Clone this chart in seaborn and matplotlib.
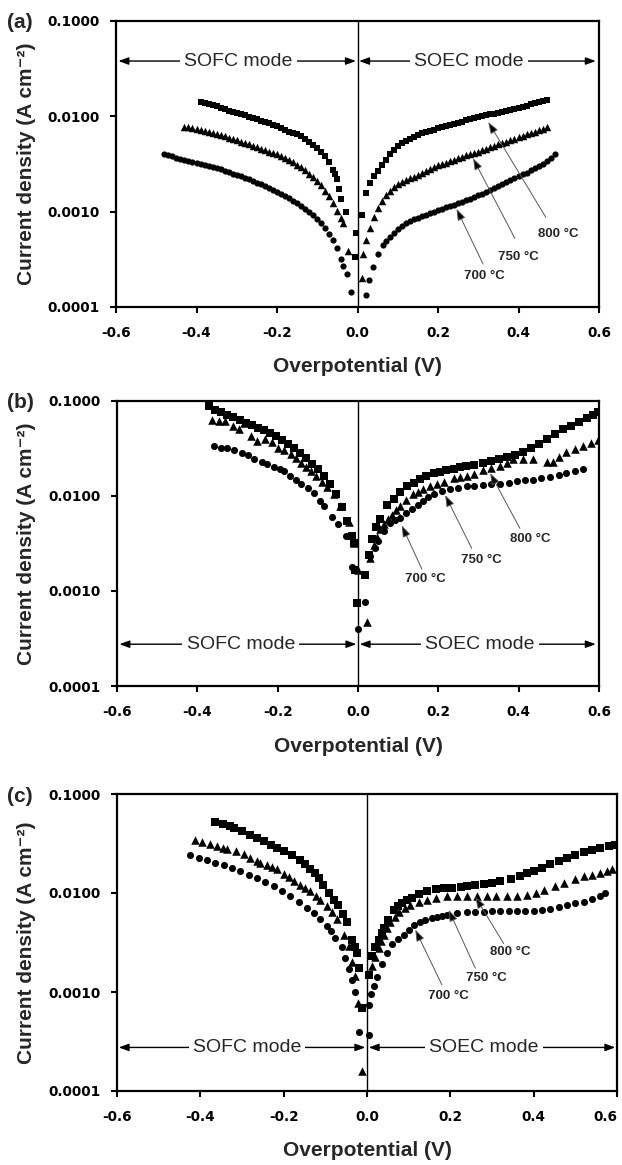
import numpy as np
import pandas as pd
import matplotlib
matplotlib.use("Agg")
import matplotlib.pyplot as plt
import seaborn as sns
from matplotlib.ticker import NullLocator

sns.set_style("ticks")
plt.rcParams['font.family'] = ['Liberation Sans', 'DejaVu Sans']
plt.rcParams['axes.unicode_minus'] = False

# ---------------- data (overpotential V, log10 of current density A cm-2) ----------------
# panel (a)
a800_v = [-0.39, -0.38, -0.37, -0.36, -0.35, -0.34, -0.33, -0.32, -0.31, -0.30, -0.29, -0.28, -0.27, -0.26,
          -0.25, -0.24, -0.23, -0.22, -0.21, -0.20, -0.19, -0.18, -0.17, -0.16, -0.15, -0.14, -0.13, -0.12,
          -0.11, -0.10, -0.09, -0.08, -0.07, -0.06, -0.055, -0.05, -0.045, -0.042, -0.028, -0.005, -0.003,
          0.010, 0.02, 0.03, 0.04, 0.05, 0.06, 0.07, 0.08, 0.09, 0.10, 0.11, 0.12, 0.13, 0.14, 0.15, 0.16,
          0.17, 0.18, 0.19, 0.20, 0.21, 0.22, 0.23, 0.24, 0.25, 0.26, 0.27, 0.28, 0.29, 0.30, 0.31, 0.32,
          0.33, 0.34, 0.35, 0.36, 0.37, 0.38, 0.39, 0.40, 0.41, 0.42, 0.43, 0.44, 0.45, 0.46, 0.47]
a800_logj = [-1.85, -1.86, -1.87, -1.88, -1.895, -1.91, -1.925, -1.94, -1.955, -1.97, -1.98, -1.99, -2.005, -2.02,
             -2.03, -2.045, -2.06, -2.075, -2.09, -2.105, -2.12, -2.14, -2.16, -2.175, -2.19, -2.21, -2.24, -2.27,
             -2.30, -2.33, -2.37, -2.42, -2.48, -2.56, -2.60, -2.66, -2.76, -2.87, -3.00, -3.48, -3.22,
             -3.04, -2.80, -2.70, -2.63, -2.57, -2.51, -2.46, -2.40, -2.35, -2.31, -2.28, -2.255, -2.235, -2.215,
             -2.195, -2.18, -2.165, -2.15, -2.14, -2.125, -2.115, -2.10, -2.09, -2.08, -2.065, -2.055, -2.04,
             -2.03, -2.02, -2.01, -2.00, -1.99, -1.98, -1.975, -1.965, -1.955, -1.945, -1.935, -1.925, -1.91,
             -1.90, -1.89, -1.875, -1.865, -1.85, -1.84, -1.83]

a750_v = [-0.43, -0.42, -0.41, -0.40, -0.39, -0.38, -0.37, -0.36, -0.35, -0.34, -0.33, -0.32, -0.31, -0.30,
          -0.29, -0.28, -0.27, -0.26, -0.25, -0.24, -0.23, -0.22, -0.21, -0.20, -0.19, -0.18, -0.17, -0.16,
          -0.15, -0.14, -0.13, -0.12, -0.11, -0.10, -0.09, -0.08, -0.07, -0.06, -0.05, -0.04, -0.035, -0.023,
          0.010, 0.014, 0.022, 0.03, 0.04, 0.05, 0.06, 0.07, 0.08, 0.09, 0.10, 0.11, 0.12, 0.13, 0.14, 0.15,
          0.16, 0.17, 0.18, 0.19, 0.20, 0.21, 0.22, 0.23, 0.24, 0.25, 0.26, 0.27, 0.28, 0.29, 0.30, 0.31,
          0.32, 0.33, 0.34, 0.35, 0.36, 0.37, 0.38, 0.39, 0.40, 0.41, 0.42, 0.43, 0.44, 0.45, 0.46, 0.47]
a750_logj = [-2.11, -2.115, -2.125, -2.135, -2.145, -2.155, -2.165, -2.175, -2.185, -2.20, -2.21, -2.225, -2.235,
             -2.25, -2.265, -2.28, -2.295, -2.31, -2.325, -2.34, -2.355, -2.37, -2.385, -2.40, -2.42, -2.44,
             -2.46, -2.48, -2.51, -2.535, -2.565, -2.60, -2.635, -2.675, -2.72, -2.78, -2.84, -2.91, -2.99,
             -3.07, -3.12, -3.41,
             -3.70, -3.44, -3.30, -3.17, -3.06, -2.96, -2.89, -2.83, -2.78, -2.74, -2.71, -2.69, -2.67, -2.65,
             -2.635, -2.615, -2.595, -2.575, -2.55, -2.53, -2.515, -2.50, -2.485, -2.47, -2.455, -2.44, -2.425,
             -2.41, -2.40, -2.385, -2.37, -2.355, -2.34, -2.325, -2.31, -2.295, -2.28, -2.265, -2.25, -2.235,
             -2.22, -2.205, -2.19, -2.175, -2.16, -2.145, -2.13, -2.115]

a700_v = [-0.48, -0.47, -0.46, -0.45, -0.44, -0.43, -0.42, -0.41, -0.40, -0.39, -0.38, -0.37, -0.36, -0.35,
          -0.34, -0.33, -0.32, -0.31, -0.30, -0.29, -0.28, -0.27, -0.26, -0.25, -0.24, -0.23, -0.22, -0.21,
          -0.20, -0.19, -0.18, -0.17, -0.16, -0.15, -0.14, -0.13, -0.12, -0.11, -0.10, -0.09, -0.08, -0.07,
          -0.06, -0.05, -0.04, -0.035, -0.027, -0.015,
          0.021, 0.029, 0.039, 0.051, 0.064, 0.07, 0.08, 0.09, 0.10, 0.11, 0.12, 0.13, 0.14, 0.15, 0.16, 0.17,
          0.18, 0.19, 0.20, 0.21, 0.22, 0.23, 0.24, 0.25, 0.26, 0.27, 0.28, 0.29, 0.30, 0.31, 0.32, 0.33,
          0.34, 0.35, 0.36, 0.37, 0.38, 0.39, 0.40, 0.41, 0.42, 0.43, 0.44, 0.45, 0.46, 0.47, 0.48, 0.49]
a700_logj = [-2.40, -2.41, -2.42, -2.435, -2.445, -2.455, -2.465, -2.475, -2.49, -2.50, -2.51, -2.52, -2.535,
             -2.545, -2.555, -2.57, -2.585, -2.60, -2.615, -2.63, -2.645, -2.66, -2.675, -2.695, -2.71, -2.73,
             -2.75, -2.77, -2.79, -2.81, -2.835, -2.86, -2.885, -2.91, -2.94, -2.97, -3.00, -3.04, -3.075,
             -3.12, -3.17, -3.23, -3.30, -3.38, -3.50, -3.57, -3.65, -3.84,
             -3.87, -3.72, -3.58, -3.44, -3.35, -3.31, -3.27, -3.22, -3.18, -3.15, -3.12, -3.10, -3.08, -3.065,
             -3.045, -3.03, -3.01, -3.00, -2.985, -2.97, -2.955, -2.94, -2.925, -2.91, -2.895, -2.88, -2.865,
             -2.85, -2.83, -2.81, -2.79, -2.77, -2.75, -2.73, -2.71, -2.69, -2.67, -2.65, -2.63, -2.61, -2.59,
             -2.565, -2.54, -2.52, -2.495, -2.47, -2.44, -2.40]

# panel (b): (V, log10 J)
b800 = [(-0.371, -1.05), (-0.355, -1.09), (-0.34, -1.12), (-0.325, -1.15), (-0.31, -1.17), (-0.295, -1.20),
        (-0.28, -1.23), (-0.265, -1.25), (-0.25, -1.28), (-0.235, -1.31), (-0.22, -1.34), (-0.205, -1.37),
        (-0.19, -1.41), (-0.175, -1.45), (-0.16, -1.50), (-0.145, -1.55), (-0.13, -1.60), (-0.115, -1.66),
        (-0.10, -1.72), (-0.085, -1.79), (-0.07, -1.87), (-0.055, -1.98), (-0.04, -2.12), (-0.027, -2.26),
        (-0.015, -2.42), (-0.010, -2.50), (-0.007, -2.78), (-0.002, -3.13),
        (0.018, -2.83), (0.028, -2.62), (0.035, -2.45), (0.045, -2.33), (0.055, -2.24), (0.072, -2.10),
        (0.089, -2.03), (0.105, -1.96), (0.122, -1.90), (0.14, -1.86), (0.155, -1.82), (0.17, -1.79),
        (0.188, -1.76), (0.205, -1.745), (0.22, -1.73), (0.24, -1.715), (0.255, -1.70), (0.27, -1.685),
        (0.29, -1.67), (0.31, -1.65), (0.33, -1.63), (0.35, -1.61), (0.37, -1.59), (0.39, -1.565),
        (0.41, -1.54), (0.43, -1.50), (0.45, -1.45), (0.47, -1.40), (0.49, -1.35), (0.51, -1.30),
        (0.53, -1.26), (0.55, -1.22), (0.57, -1.18), (0.585, -1.15), (0.597, -1.12)]
b750 = [(-0.363, -1.20), (-0.345, -1.21), (-0.33, -1.21), (-0.31, -1.26), (-0.296, -1.30), (-0.285, -1.23),
        (-0.267, -1.37), (-0.251, -1.42), (-0.232, -1.40), (-0.214, -1.43), (-0.199, -1.49), (-0.185, -1.52),
        (-0.168, -1.56), (-0.155, -1.60), (-0.143, -1.65), (-0.13, -1.70), (-0.118, -1.74), (-0.105, -1.79),
        (-0.09, -1.85), (-0.077, -1.91), (-0.06, -1.98), (-0.044, -2.11), (-0.023, -2.27), (-0.009, -2.50),
        (0.0, -2.78),
        (0.022, -3.33), (0.031, -2.65), (0.040, -2.52), (0.047, -2.43), (0.056, -2.35), (0.064, -2.29),
        (0.075, -2.24), (0.084, -2.20), (0.095, -2.15), (0.105, -2.11), (0.12, -2.04), (0.138, -1.98),
        (0.15, -1.96), (0.163, -1.93), (0.18, -1.90), (0.196, -1.87), (0.215, -1.85), (0.238, -1.81),
        (0.255, -1.80), (0.271, -1.79), (0.29, -1.77), (0.312, -1.73), (0.33, -1.71), (0.354, -1.68),
        (0.37, -1.65), (0.387, -1.61), (0.41, -1.61), (0.436, -1.61), (0.47, -1.64), (0.485, -1.64),
        (0.50, -1.59), (0.519, -1.54), (0.54, -1.51), (0.561, -1.47), (0.58, -1.44), (0.598, -1.41)]
b700 = [(-0.359, -1.47), (-0.34, -1.49), (-0.325, -1.50), (-0.309, -1.52), (-0.29, -1.55), (-0.275, -1.57),
        (-0.258, -1.61), (-0.24, -1.64), (-0.226, -1.66), (-0.21, -1.69), (-0.195, -1.72), (-0.185, -1.74),
        (-0.17, -1.79), (-0.155, -1.83), (-0.143, -1.87), (-0.125, -1.92), (-0.110, -1.97), (-0.095, -2.05),
        (-0.085, -2.11), (-0.065, -2.22), (-0.050, -2.30), (-0.031, -2.42), (-0.015, -2.75), (0.0, -3.40),
        (0.018, -3.12), (0.031, -2.63), (0.042, -2.55), (0.051, -2.47), (0.064, -2.37), (0.080, -2.28),
        (0.092, -2.25), (0.105, -2.23), (0.12, -2.18), (0.134, -2.14), (0.15, -2.09), (0.163, -2.05),
        (0.175, -2.01), (0.188, -1.98), (0.21, -1.95), (0.229, -1.93), (0.25, -1.915), (0.271, -1.90),
        (0.29, -1.89), (0.312, -1.88), (0.33, -1.875), (0.354, -1.87), (0.375, -1.86), (0.395, -1.84),
        (0.415, -1.835), (0.436, -1.83), (0.455, -1.815), (0.478, -1.80), (0.50, -1.78), (0.519, -1.76),
        (0.54, -1.74), (0.561, -1.72)]

# panel (c): (V, log10 J)
c800 = [(-0.364, -1.28), (-0.345, -1.30), (-0.33, -1.32), (-0.32, -1.34), (-0.30, -1.37), (-0.28, -1.41),
        (-0.265, -1.44), (-0.248, -1.47), (-0.23, -1.52), (-0.215, -1.55), (-0.200, -1.58), (-0.18, -1.62),
        (-0.160, -1.67), (-0.148, -1.71), (-0.136, -1.76), (-0.125, -1.80), (-0.116, -1.85), (-0.105, -1.92),
        (-0.092, -2.00), (-0.080, -2.07), (-0.070, -2.12), (-0.058, -2.21), (-0.048, -2.29), (-0.036, -2.47),
        (-0.030, -2.55), (-0.024, -2.61), (-0.020, -2.76), (-0.012, -3.16),
        (0.004, -2.83), (0.012, -2.64), (0.020, -2.55), (0.028, -2.47), (0.035, -2.40), (0.040, -2.35),
        (0.050, -2.27), (0.064, -2.17), (0.075, -2.13), (0.084, -2.10), (0.095, -2.07), (0.108, -2.05),
        (0.125, -2.01), (0.144, -1.98), (0.165, -1.96), (0.184, -1.95), (0.205, -1.945), (0.225, -1.935),
        (0.240, -1.93), (0.26, -1.92), (0.280, -1.91), (0.30, -1.895), (0.320, -1.88), (0.345, -1.86),
        (0.368, -1.83), (0.385, -1.80), (0.400, -1.78), (0.42, -1.745), (0.440, -1.71), (0.46, -1.68),
        (0.480, -1.65), (0.50, -1.62), (0.520, -1.59), (0.54, -1.57), (0.560, -1.55), (0.58, -1.53),
        (0.596, -1.52)]
c750 = [(-0.412, -1.46), (-0.395, -1.48), (-0.376, -1.51), (-0.36, -1.53), (-0.345, -1.55), (-0.336, -1.56),
        (-0.315, -1.58), (-0.296, -1.61), (-0.28, -1.65), (-0.265, -1.68), (-0.256, -1.70), (-0.24, -1.72),
        (-0.228, -1.74), (-0.216, -1.76), (-0.20, -1.81), (-0.188, -1.84), (-0.176, -1.88), (-0.16, -1.92),
        (-0.148, -1.95), (-0.136, -1.98), (-0.122, -2.03), (-0.112, -2.07), (-0.096, -2.13), (-0.085, -2.19),
        (-0.072, -2.26), (-0.056, -2.42), (-0.044, -2.54), (-0.035, -2.70), (-0.028, -2.84), (-0.022, -3.11),
        (-0.012, -3.80),
        (0.012, -2.74), (0.020, -2.65), (0.028, -2.56), (0.034, -2.48), (0.040, -2.42), (0.048, -2.35),
        (0.056, -2.29), (0.066, -2.24), (0.076, -2.19), (0.090, -2.15), (0.104, -2.12), (0.124, -2.09),
        (0.144, -2.07), (0.165, -2.05), (0.192, -2.03), (0.215, -2.03), (0.240, -2.03), (0.265, -2.03),
        (0.288, -2.03), (0.31, -2.03), (0.336, -2.03), (0.36, -2.03), (0.384, -2.02), (0.405, -2.00),
        (0.424, -1.97), (0.45, -1.93), (0.472, -1.90), (0.50, -1.86), (0.520, -1.83), (0.540, -1.82),
        (0.560, -1.80), (0.575, -1.78), (0.588, -1.76)]
c700 = [(-0.424, -1.62), (-0.404, -1.645), (-0.384, -1.67), (-0.364, -1.695), (-0.344, -1.72), (-0.324, -1.75),
        (-0.304, -1.78), (-0.284, -1.815), (-0.264, -1.85), (-0.244, -1.89), (-0.224, -1.93), (-0.204, -1.98),
        (-0.184, -2.03), (-0.164, -2.09), (-0.144, -2.15), (-0.128, -2.20), (-0.112, -2.26), (-0.096, -2.33),
        (-0.086, -2.38), (-0.076, -2.45), (-0.060, -2.55), (-0.052, -2.66), (-0.044, -2.77), (-0.036, -2.88),
        (-0.028, -3.00), (-0.020, -3.40),
        (0.004, -3.43), (0.004, -3.13), (0.010, -3.02), (0.016, -2.94), (0.024, -2.85), (0.036, -2.72),
        (0.048, -2.61), (0.060, -2.52), (0.075, -2.46), (0.088, -2.42), (0.100, -2.37), (0.112, -2.32),
        (0.126, -2.295), (0.140, -2.27), (0.155, -2.25), (0.168, -2.24), (0.18, -2.23), (0.192, -2.22),
        (0.215, -2.20), (0.240, -2.19), (0.26, -2.19), (0.280, -2.19), (0.30, -2.185), (0.320, -2.18),
        (0.34, -2.18), (0.360, -2.18), (0.38, -2.18), (0.400, -2.18), (0.42, -2.17), (0.440, -2.16),
        (0.46, -2.14), (0.480, -2.12), (0.50, -2.10), (0.520, -2.09), (0.54, -2.06), (0.560, -2.03),
        (0.572, -2.00)]

temps = ['800 °C', '750 °C', '700 °C']
x_ticks = [-0.6, -0.4, -0.2, 0.0, 0.2, 0.4, 0.6]
x_ticklabels = ['-0.6', '-0.4', '-0.2', '0.0', '0.2', '0.4', '0.6']
y_ticks = [0.0001, 0.001, 0.01, 0.1]
y_ticklabels = ['0.0001', '0.0010', '0.0100', '0.1000']

# annotation anchors: (label, arrow tip, arrow tail, text centre) in (V, log10 J)
ann_a = [('800 °C', (0.325, -2.06), (0.468, -3.06), (0.499, -3.23)),
         ('750 °C', (0.287, -2.44), (0.391, -3.28), (0.399, -3.48)),
         ('700 °C', (0.246, -2.97), (0.312, -3.55), (0.316, -3.68))]
ann_b = [('800 °C', (0.329, -1.76), (0.403, -2.34), (0.428, -2.45)),
         ('750 °C', (0.217, -1.99), (0.283, -2.55), (0.308, -2.67)),
         ('700 °C', (0.109, -2.31), (0.159, -2.77), (0.167, -2.87))]
ann_c = [('800 °C', (0.260, -2.04), (0.328, -2.51), (0.344, -2.60)),
         ('750 °C', (0.196, -2.17), (0.260, -2.76), (0.286, -2.86)),
         ('700 °C', (0.116, -2.37), (0.180, -2.93), (0.196, -3.04))]

W, H = 622, 1165
fig = plt.figure(figsize=(W / 100, H / 100), dpi=100)

# axes boxes in pixels: left, right, top, bottom
boxes = {'a': (116, 599, 21, 307), 'b': (117, 599, 401, 686), 'c': (117, 617, 794, 1091)}


def make_ax(box):
    l, r, t, b = box
    return fig.add_axes([l / W, 1 - b / H, (r - l) / W, (b - t) / H])


def draw_series(ax, series, size):
    for (v, lj), mk in zip(series, ['s', '^', 'o']):
        df = pd.DataFrame({'V': v, 'J': np.power(10.0, np.array(lj))})
        s = size * (1.45 if mk == '^' else 1.0)
        sns.scatterplot(data=df, x='V', y='J', marker=mk, color='black', s=s,
                        linewidth=0, ax=ax, legend=False, zorder=3)


def style_ax(ax, last_right=False):
    ax.set_yscale('log')
    ax.set_xlim(-0.6, 0.6)
    ax.set_ylim(1e-4, 1e-1)
    ax.set_xticks(x_ticks)
    ax.set_xticklabels(x_ticklabels)
    ax.set_yticks(y_ticks)
    ax.set_yticklabels(y_ticklabels)
    ax.yaxis.set_minor_locator(NullLocator())
    ax.xaxis.set_minor_locator(NullLocator())
    ax.set_xlabel('')
    ax.set_ylabel('')
    for sp in ax.spines.values():
        sp.set_visible(True)
        sp.set_linewidth(1.6)
        sp.set_color('black')
    ax.tick_params(axis='both', direction='out', length=4.5, width=1.5, colors='black', labelsize=9.8)
    ax.tick_params(axis='x', pad=9)
    ax.tick_params(axis='y', pad=7)
    for lbl in ax.get_xticklabels() + ax.get_yticklabels():
        lbl.set_fontfamily('DejaVu Sans')
        lbl.set_fontweight('bold')
    if last_right:
        ax.get_xticklabels()[-1].set_horizontalalignment('right')
    ax.axvline(0, color='black', lw=1.0, zorder=2)


def modes(ax, y, sofc_cx, soec_cx, left_end, right_end):
    ap = dict(arrowstyle='<|-|>,head_length=0.6,head_width=0.22', color='black', lw=1.0,
              shrinkA=0, shrinkB=0, mutation_scale=10)
    yy = 10 ** y
    ax.annotate('', xy=(left_end, yy), xytext=(-0.004, yy), arrowprops=ap, zorder=4)
    ax.annotate('', xy=(0.004, yy), xytext=(right_end, yy), arrowprops=ap, zorder=4)
    for cx, txt in ((sofc_cx, 'SOFC mode'), (soec_cx, 'SOEC mode')):
        ax.text(cx, yy, txt, ha='center', va='center', fontsize=14, zorder=6,
                bbox=dict(fc='white', ec='none', pad=3))


def temp_labels(ax, items):
    for txt, tip, tail, tpos in items:
        ax.annotate('', xy=(tip[0], 10 ** tip[1]), xytext=(tail[0], 10 ** tail[1]),
                    arrowprops=dict(arrowstyle='-|>,head_length=0.7,head_width=0.25', facecolor='black',
                                    edgecolor='#555555', lw=0.7, shrinkA=0, shrinkB=0, mutation_scale=10),
                    zorder=5)
        ax.text(tpos[0], 10 ** tpos[1], txt, ha='center', va='center', fontsize=9.5, fontweight='bold', zorder=6)


panels = [
    ('a', [(a800_v, a800_logj), (a750_v, a750_logj), (a700_v, a700_logj)], 20, ann_a,
     (-1.42, -0.296, 0.277, -0.594, 0.592)),
    ('b', [tuple(map(list, zip(*b800))), tuple(map(list, zip(*b750))), tuple(map(list, zip(*b700)))], 26, ann_b,
     (-3.56, -0.292, 0.304, -0.594, 0.592)),
    ('c', [tuple(map(list, zip(*c800))), tuple(map(list, zip(*c750))), tuple(map(list, zip(*c700)))], 26, ann_c,
     (-3.56, -0.288, 0.280, -0.596, 0.596)),
]

for key, series, size, ann, mode_args in panels:
    box = boxes[key]
    ax = make_ax(box)
    draw_series(ax, series, size)
    style_ax(ax, last_right=(key == 'c'))
    modes(ax, *mode_args)
    temp_labels(ax, ann)
    l, r, t, b = box
    fig.text(27 / W, 1 - ((t + b) / 2) / H, 'Current density (A cm⁻²)', rotation=90, ha='center',
             va='center', fontsize=15, fontweight='bold')
    fig.text(((l + r) / 2) / W, 1 - (b + 60) / H, 'Overpotential (V)', ha='center', va='center',
             fontsize=15, fontweight='bold')
    fig.text(7 / W, 1 - (t + 2) / H, '(%s)' % key, ha='left', va='center', fontsize=15, fontweight='bold')

fig.savefig('out.png', dpi=100)
